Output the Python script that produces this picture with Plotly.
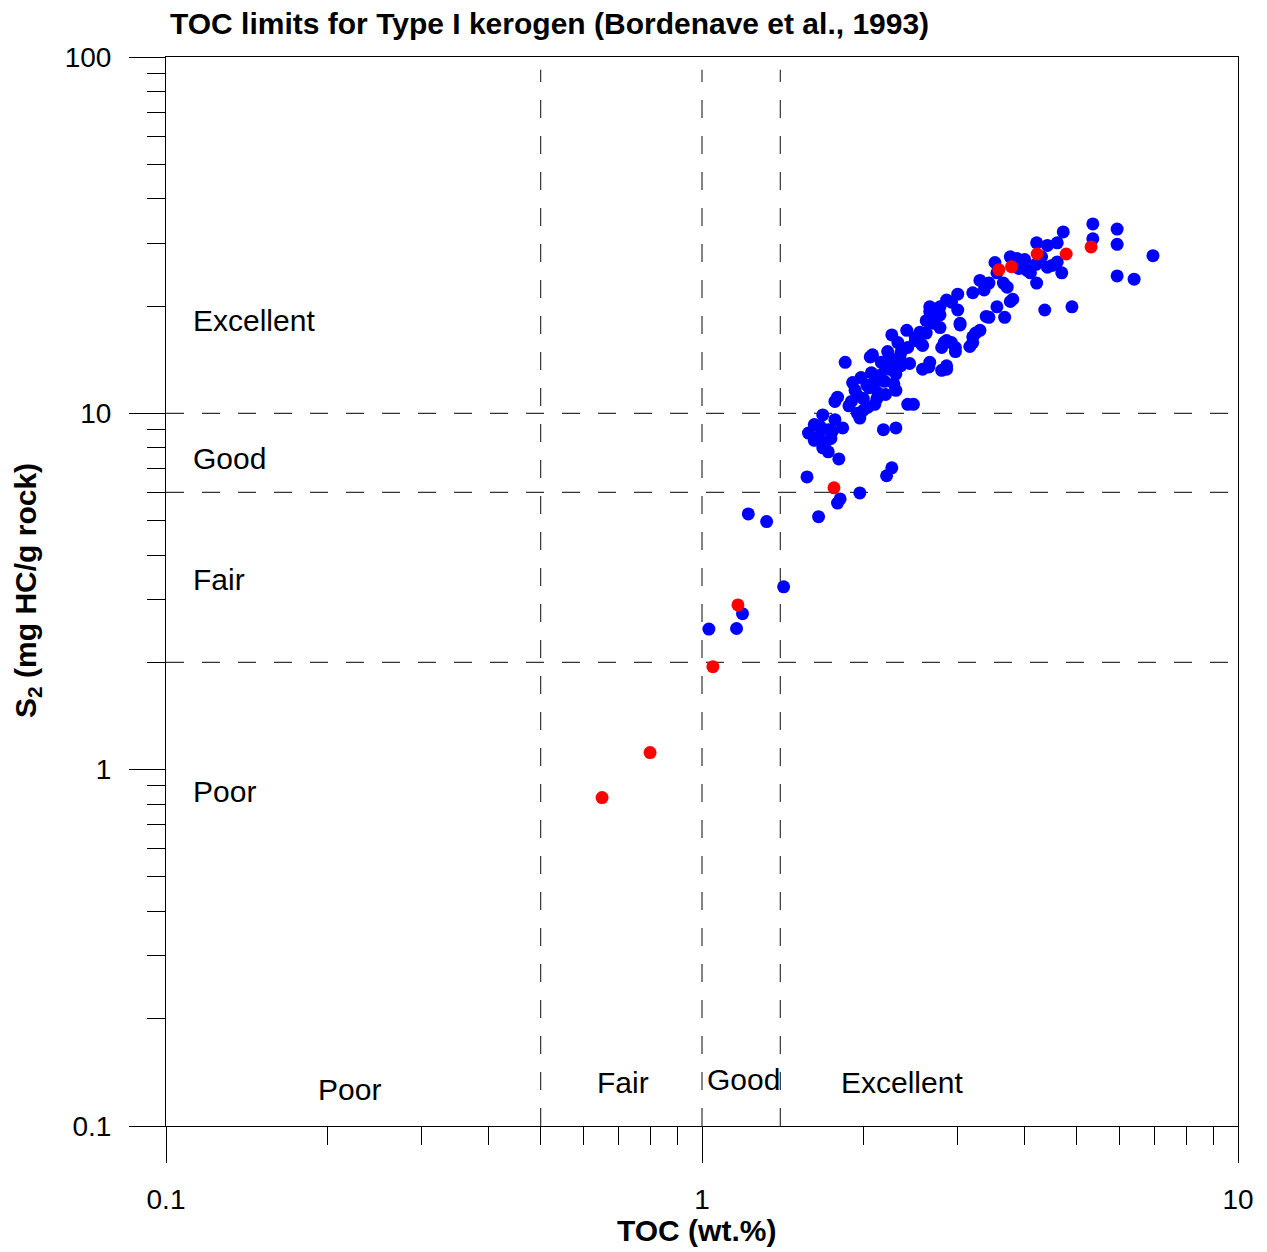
import math
import plotly.graph_objects as go

# ---- data (TOC wt.%, S2 mg HC/g rock) ----
blue_toc = [1.03, 1.16, 1.19, 1.42, 1.22, 1.32, 1.65, 1.79, 1.81, 1.97, 1.57, 2.21, 2.26, 1.80,
            1.62, 1.68, 1.77, 1.58, 1.65, 1.72, 1.83, 1.70, 1.72, 1.62, 1.66, 1.75, 1.68, 1.74,
            1.85, 2.08, 1.79, 1.77, 1.91, 1.98, 2.07, 1.88, 1.95, 1.97, 2.13, 2.19, 2.26, 2.30,
            2.35, 2.42, 2.42, 2.48, 2.18, 2.30, 2.57, 2.80, 2.65, 2.80,
            2.00, 2.05, 2.10, 2.15, 2.20, 2.25, 2.10, 2.00, 1.95, 2.30, 2.35, 2.20, 2.03, 1.90,
            2.12, 2.04, 1.93, 2.28, 2.16,
            2.26, 2.41, 2.32, 2.55, 2.66, 2.78, 2.86, 3.00, 3.00, 3.03, 2.70, 2.62, 2.78, 2.83,
            2.97, 2.92, 2.58, 2.50, 2.66, 2.58, 2.86, 3.20, 3.24, 3.20, 3.39, 2.06, 2.22, 2.34,
            2.44, 2.24, 2.15,
            4.72, 4.60, 4.41, 4.21, 4.60, 4.69, 4.21, 4.36, 4.90, 4.41, 4.04, 3.93, 3.87, 3.76,
            4.10, 3.52, 3.55, 3.65, 3.30, 3.43, 3.71, 3.36, 3.55, 3.76, 3.80, 3.67, 3.43, 3.30,
            3.20, 3.16, 2.97, 2.86, 2.66, 2.70, 2.78, 2.92, 3.03, 2.50, 2.62, 2.86,
            5.36, 5.36, 5.95, 5.95, 6.94, 5.95, 6.40,
            4.00, 4.30, 4.50, 3.90, 4.20]
blue_s2 = [2.48, 2.49, 2.74, 3.26, 5.22, 4.97, 5.13, 5.60, 5.75, 5.98, 6.63, 6.68, 7.03, 7.45,
           9.3, 9.9, 9.6, 8.8, 8.6, 9.0, 9.1, 8.3, 7.8, 8.4, 9.2, 8.9, 8.0, 8.5,
           13.9, 14.6, 11.1, 10.8, 12.2, 12.6, 13.0, 10.5, 10.0, 9.7, 11.4, 12.3, 13.4, 11.6,
           14.8, 15.3, 10.6, 10.6, 9.0, 9.1, 15.6, 15.3, 13.5, 13.2,
           11.0, 11.8, 12.2, 12.8, 13.5, 14.2, 10.6, 10.2, 11.2, 12.9, 13.6, 11.3, 12.0, 10.8,
           11.0, 10.4, 11.6, 12.1, 13.9,
           16.6, 17.1, 15.8, 16.9, 19.3, 19.9, 20.8, 21.6, 19.5, 17.7, 17.9, 18.2, 17.4, 15.8,
           14.9, 15.8, 15.5, 16.0, 13.9, 13.3, 13.3, 15.8, 16.8, 21.8, 18.7, 14.4, 14.9, 14.4,
           13.8, 13.3, 12.4,
           32.3, 30.1, 29.6, 30.1, 26.6, 24.8, 23.2, 19.5, 19.9, 25.7, 25.2, 26.5, 27.2, 27.5,
           24.8, 26.5, 24.8, 23.2, 23.6, 23.2, 22.6, 22.2, 19.9, 20.6, 20.9, 18.6, 18.6, 17.1,
           16.4, 15.4, 15.3, 16.0, 19.9, 18.1, 18.9, 20.5, 17.9, 16.3, 16.8, 13.6,
           34.0, 30.9, 32.9, 29.8, 27.7, 24.3, 23.8,
           27.0, 27.5, 26.0, 25.5, 26.2]

red_toc = [0.651, 0.80, 1.048, 1.167, 1.763, 3.58, 3.78, 4.22, 4.78, 5.32]
red_s2 = [0.835, 1.117, 1.945, 2.90, 6.18, 25.3, 25.8, 28.0, 28.0, 29.3]

toc_limits = [0.5, 1.0, 1.4]          # vertical class boundaries
s2_limits = [10, 6, 2]                # horizontal class boundaries

s2_classes = ["Excellent", "Good", "Fair", "Poor"]
s2_class_pos = [18.2, 7.45, 3.41, 0.868]
toc_classes = ["Poor", "Fair", "Good", "Excellent"]
toc_class_x = [0.2203, 0.713, 1.197, 2.36]
toc_class_y = [0.1266, 0.1324, 0.135, 0.1324]

x_major = [0.1, 1, 10]
y_major = [0.1, 1, 10, 100]
x_minor = [0.2, 0.3, 0.4, 0.5, 0.6, 0.7, 0.8, 0.9, 2, 3, 4, 5, 6, 7, 8, 9]
y_minor = [0.2, 0.3, 0.4, 0.5, 0.6, 0.7, 0.8, 0.9, 2, 3, 4, 5, 6, 7, 8, 9,
           20, 30, 40, 50, 60, 70, 80, 90]

FONT = "Liberation Sans, Arial, sans-serif"

fig = go.Figure()
fig.add_trace(go.Scatter(x=blue_toc, y=blue_s2, mode="markers",
                         marker=dict(color="#0000FF", size=13, line=dict(width=0)),
                         showlegend=False, hoverinfo="x+y"))
fig.add_trace(go.Scatter(x=red_toc, y=red_s2, mode="markers",
                         marker=dict(color="#FF0000", size=13, line=dict(width=0)),
                         showlegend=False, hoverinfo="x+y"))

for v in toc_limits:
    fig.add_shape(type="line", xref="x", yref="paper", x0=v, x1=v, y0=0, y1=0.988,
                  line=dict(color="#333333", width=1.2, dash="18px,18px"), layer="below")
for h in s2_limits:
    fig.add_shape(type="line", xref="paper", yref="y", x0=0, x1=1, y0=h, y1=h,
                  line=dict(color="#333333", width=1.2, dash="18px,18px"), layer="below")

for name, yv in zip(s2_classes, s2_class_pos):
    fig.add_annotation(x=-0.953, y=math.log10(yv), xref="x", yref="y",
                       text=name, showarrow=False, xanchor="left", yanchor="middle",
                       font=dict(family=FONT, size=30, color="black"))
for name, xv, yv in zip(toc_classes, toc_class_x, toc_class_y):
    fig.add_annotation(x=math.log10(xv), y=math.log10(yv), xref="x", yref="y",
                       text=name, showarrow=False, xanchor="center", yanchor="middle",
                       font=dict(family=FONT, size=30, color="black"))

fig.add_annotation(text="<b>TOC limits for Type I kerogen (Bordenave et al., 1993)</b>",
                   xref="paper", yref="paper", x=0.0019, y=1.0318, xanchor="left",
                   yanchor="middle", showarrow=False,
                   font=dict(family=FONT, size=30, color="black"))
fig.add_annotation(text="<b>TOC (wt.%)</b>", xref="paper", yref="paper",
                   x=0.4953, y=-0.0973, xanchor="center", yanchor="middle",
                   showarrow=False, font=dict(family=FONT, size=30, color="black"))
fig.add_annotation(text="<b>S<sub>2</sub> (mg HC/g rock)</b>", xref="paper", yref="paper",
                   x=-0.1297, y=0.5014, xanchor="center", yanchor="middle", textangle=-90,
                   showarrow=False, font=dict(family=FONT, size=30, color="black"))

axis_common = dict(type="log", showgrid=False, zeroline=False, showline=True,
                   linecolor="black", linewidth=1, mirror=True,
                   ticks="outside", ticklen=36, tickwidth=1, tickcolor="black",
                   ticklabelstandoff=12,
                   tickfont=dict(family=FONT, size=28, color="black"))

fig.update_xaxes(**axis_common, range=[-1, 1], tickmode="array", tickvals=x_major,
                 ticktext=[str(v) for v in x_major],
                 minor=dict(tickmode="array", tickvals=x_minor, ticks="outside",
                            ticklen=18, tickcolor="black", tickwidth=1, showgrid=False))
fig.update_yaxes(**axis_common, range=[-1, 2], tickmode="array", tickvals=y_major,
                 ticktext=[str(v) for v in y_major],
                 minor=dict(tickmode="array", tickvals=y_minor, ticks="outside",
                            ticklen=18, tickcolor="black", tickwidth=1, showgrid=False))

fig.update_layout(width=1259, height=1244, autosize=False,
                  margin=dict(l=158, r=29, t=49, b=126),
                  paper_bgcolor="white", plot_bgcolor="white",
                  font=dict(family=FONT, color="black"))

fig.write_html("out.html")
